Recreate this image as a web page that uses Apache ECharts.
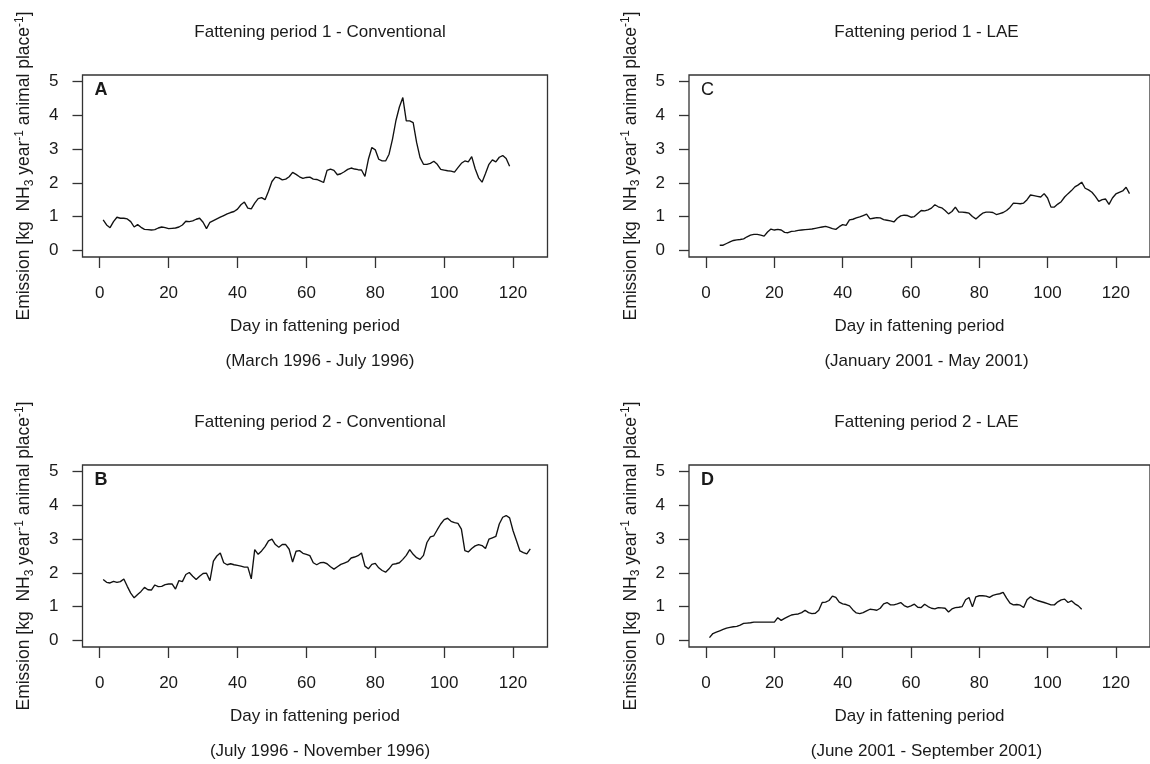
<!DOCTYPE html>
<html>
<head>
<meta charset="utf-8">
<script src="https://cdn.jsdelivr.net/npm/echarts@6/dist/echarts.min.js"></script>
<style>
  html, body { margin: 0; padding: 0; background: #ffffff; }
  #chart { width: 1150px; height: 764px; }
</style>
</head>
<body>
<div id="chart"></div>
<script>
// Daily NH3 emission per animal place, four fattening periods.
// Each series starts at its first measured day.

const dayTicks = [0, 20, 40, 60, 80, 100, 120];
const emissionTicks = [0, 1, 2, 3, 4, 5];

// Fattening period 1 - Conventional (A), days 1..119
const startA = 1;
const emissionA = [
  0.90,0.75,0.67,0.85,0.98,0.95,0.95,0.93,0.85,0.69,
  0.76,0.68,0.62,0.61,0.60,0.61,0.66,0.69,0.67,0.64,
  0.65,0.66,0.69,0.75,0.86,0.85,0.87,0.92,0.95,0.83,
  0.64,0.83,0.88,0.93,0.98,1.03,1.08,1.12,1.15,1.22,
  1.35,1.43,1.25,1.23,1.40,1.53,1.56,1.50,1.75,2.04,
  2.17,2.15,2.09,2.11,2.18,2.31,2.25,2.18,2.13,2.16,
  2.17,2.11,2.10,2.06,2.01,2.37,2.41,2.37,2.24,2.27,
  2.33,2.40,2.44,2.41,2.39,2.38,2.19,2.70,3.05,2.98,
  2.70,2.65,2.65,2.85,3.30,3.85,4.25,4.53,3.84,3.84,
  3.79,3.20,2.75,2.55,2.55,2.58,2.64,2.55,2.40,2.38,
  2.36,2.35,2.32,2.45,2.58,2.65,2.62,2.78,2.42,2.15,
  2.02,2.28,2.55,2.68,2.62,2.76,2.81,2.72,2.49
];

// Fattening period 2 - Conventional (B), days 1..125
const startB = 1;
const emissionB = [
  1.80,1.72,1.70,1.75,1.72,1.74,1.82,1.60,1.40,1.26,
  1.36,1.45,1.57,1.50,1.49,1.64,1.59,1.60,1.65,1.67,
  1.67,1.52,1.77,1.74,1.95,2.01,1.90,1.80,1.90,1.98,
  1.99,1.77,2.35,2.50,2.59,2.30,2.24,2.27,2.24,2.22,
  2.20,2.17,2.17,1.82,2.69,2.55,2.65,2.78,2.95,3.00,
  2.84,2.76,2.84,2.84,2.70,2.32,2.64,2.66,2.58,2.55,
  2.51,2.30,2.24,2.30,2.31,2.27,2.18,2.11,2.18,2.25,
  2.29,2.33,2.44,2.47,2.51,2.59,2.20,2.12,2.25,2.28,
  2.15,2.07,2.02,2.12,2.25,2.27,2.30,2.40,2.52,2.69,
  2.55,2.45,2.40,2.52,2.90,3.07,3.10,3.28,3.45,3.58,
  3.62,3.53,3.49,3.47,3.30,2.66,2.62,2.72,2.80,2.84,
  2.81,2.72,3.00,3.04,3.08,3.45,3.65,3.70,3.63,3.25,
  2.95,2.65,2.60,2.56,2.71
];

// Fattening period 1 - LAE (C), days 4..124
const startC = 4;
const emissionC = [
  0.15,0.15,0.20,0.25,0.29,0.31,0.32,
  0.34,0.40,0.45,0.47,0.47,0.45,0.42,0.54,0.63,0.60,
  0.62,0.60,0.53,0.52,0.56,0.57,0.59,0.60,0.61,0.62,
  0.63,0.65,0.67,0.69,0.71,0.68,0.64,0.62,0.70,0.76,
  0.74,0.90,0.92,0.96,0.99,1.03,1.07,0.93,0.95,0.97,
  0.96,0.91,0.89,0.87,0.84,0.95,1.02,1.04,1.03,0.98,
  1.00,1.09,1.18,1.17,1.20,1.25,1.35,1.29,1.26,1.18,
  1.08,1.15,1.28,1.13,1.13,1.12,1.10,1.00,0.93,1.02,
  1.10,1.13,1.13,1.12,1.06,1.09,1.12,1.18,1.27,1.40,
  1.39,1.38,1.40,1.50,1.64,1.62,1.60,1.58,1.68,1.55,
  1.28,1.28,1.37,1.44,1.58,1.68,1.77,1.88,1.94,2.02,
  1.84,1.79,1.72,1.60,1.45,1.50,1.52,1.36,1.55,1.67,
  1.72,1.76,1.87,1.68
];

// Fattening period 2 - LAE (D), days 1..110
const startD = 1;
const emissionD = [
  0.08,0.20,0.24,0.28,0.32,0.36,0.38,0.40,0.41,0.45,
  0.50,0.51,0.52,0.54,0.54,0.54,0.54,0.54,0.54,0.54,
  0.67,0.59,0.65,0.70,0.75,0.77,0.78,0.82,0.89,0.82,
  0.79,0.80,0.89,1.12,1.13,1.18,1.31,1.27,1.13,1.08,
  1.06,1.02,0.90,0.81,0.79,0.82,0.87,0.92,0.91,0.89,
  0.95,1.08,1.12,1.05,1.05,1.08,1.12,1.03,0.98,1.02,
  1.07,0.98,0.97,1.07,1.00,0.95,0.93,0.97,0.96,0.95,
  0.84,0.93,0.97,0.98,1.00,1.20,1.27,0.99,1.29,1.32,
  1.32,1.31,1.27,1.33,1.36,1.38,1.42,1.25,1.10,1.05,
  1.06,1.04,0.97,1.20,1.29,1.22,1.18,1.15,1.12,1.09,
  1.05,1.05,1.14,1.20,1.22,1.12,1.17,1.08,1.02,0.92
];

const panelTitles = [
  'Fattening period 1 - Conventional',
  'Fattening period 1 - LAE',
  'Fattening period 2 - Conventional',
  'Fattening period 2 - LAE'
];
const panelPeriods = [
  '(March 1996 - July 1996)',
  '(January 2001 - May 2001)',
  '(July 1996 - November 1996)',
  '(June 2001 - September 2001)'
];
const panelLetters = ['A', 'C', 'B', 'D'];
const xAxisTitle = 'Day in fattening period';

// Panel order: top-left, top-right, bottom-left, bottom-right
const panelSeries = [
  [startA, emissionA],
  [startC, emissionC],
  [startB, emissionB],
  [startD, emissionD]
];

const FONT = '"Liberation Sans", Arial, sans-serif';
const INK = '#1a1a1a';
const FRAME = '#333333';

const boxes = [
  { left: 82.5, top: 75, width: 465, height: 182 },
  { left: 689, top: 75, width: 465, height: 182 },
  { left: 82.5, top: 465, width: 465, height: 182 },
  { left: 689, top: 465, width: 465, height: 182 }
];

const toPairs = (start, values) => values.map((v, i) => [start + i, v]);

const yName = '{n|Emission [kg  NH}{sub|3}{n| year}{sup|-1}{n| animal place}{sup|-1}{n|]}';

const option = {
  animation: false,
  backgroundColor: '#ffffff',
  textStyle: { fontFamily: FONT, color: INK },
  title: [],
  grid: [],
  xAxis: [],
  yAxis: [],
  series: [],
  graphic: []
};

boxes.forEach((b, i) => {
  const cx = b.left + b.width / 2;
  option.title.push({
    text: panelTitles[i], left: cx, top: b.top - 56, textAlign: 'center',
    textStyle: { fontFamily: FONT, fontSize: 17, fontWeight: 'normal', color: INK }
  });
  option.title.push({
    text: panelPeriods[i], left: cx, top: b.top + b.height + 91, textAlign: 'center',
    textStyle: { fontFamily: FONT, fontSize: 17, fontWeight: 'normal', color: INK }
  });
  option.grid.push({
    left: b.left, top: b.top, width: b.width, height: b.height,
    show: true, borderColor: FRAME, borderWidth: 1.3, backgroundColor: 'transparent'
  });
  option.xAxis.push({
    type: 'value', gridIndex: i, min: -5, max: 130,
    axisLine: { show: false, onZero: false },
    axisTick: { show: true, inside: false, length: 11, customValues: dayTicks,
      lineStyle: { color: FRAME, width: 1.3 } },
    axisLabel: { customValues: dayTicks, margin: 28, fontSize: 17, color: INK, fontFamily: FONT },
    splitLine: { show: false },
    name: xAxisTitle, nameLocation: 'middle', nameGap: 61,
    nameTextStyle: { fontSize: 17, color: INK, fontFamily: FONT }
  });
  option.yAxis.push({
    type: 'value', gridIndex: i, min: -0.2, max: 5.2,
    axisLine: { show: false, onZero: false },
    axisTick: { show: true, inside: false, length: 10, customValues: emissionTicks,
      lineStyle: { color: FRAME, width: 1.3 } },
    axisLabel: { customValues: emissionTicks, margin: 24, fontSize: 17, color: INK, fontFamily: FONT },
    splitLine: { show: false },
    name: yName, nameLocation: 'middle', nameRotate: 90, nameGap: 47,
    nameTextStyle: {
      rich: {
        n: { fontSize: 17.5, lineHeight: 22, color: INK, fontFamily: FONT },
        sub: { fontSize: 12, lineHeight: 12, verticalAlign: 'bottom', color: INK, fontFamily: FONT },
        sup: { fontSize: 12, lineHeight: 12, verticalAlign: 'top', color: INK, fontFamily: FONT }
      }
    }
  });
  const [start, values] = panelSeries[i];
  option.series.push({
    type: 'line', xAxisIndex: i, yAxisIndex: i,
    data: toPairs(start, values),
    showSymbol: false, symbol: 'none',
    lineStyle: { color: '#111111', width: 1.35 },
    silent: true
  });
  option.graphic.push({
    type: 'text', left: b.left + 12, top: b.top + 6,
    style: {
      text: panelLetters[i], fill: INK,
      font: (panelLetters[i] === 'C' ? 'normal' : 'bold') + ' 18px ' + FONT
    }
  });
});

const chart = echarts.init(document.getElementById('chart'), null, { renderer: 'canvas' });
chart.setOption(option);
</script>
</body>
</html>
